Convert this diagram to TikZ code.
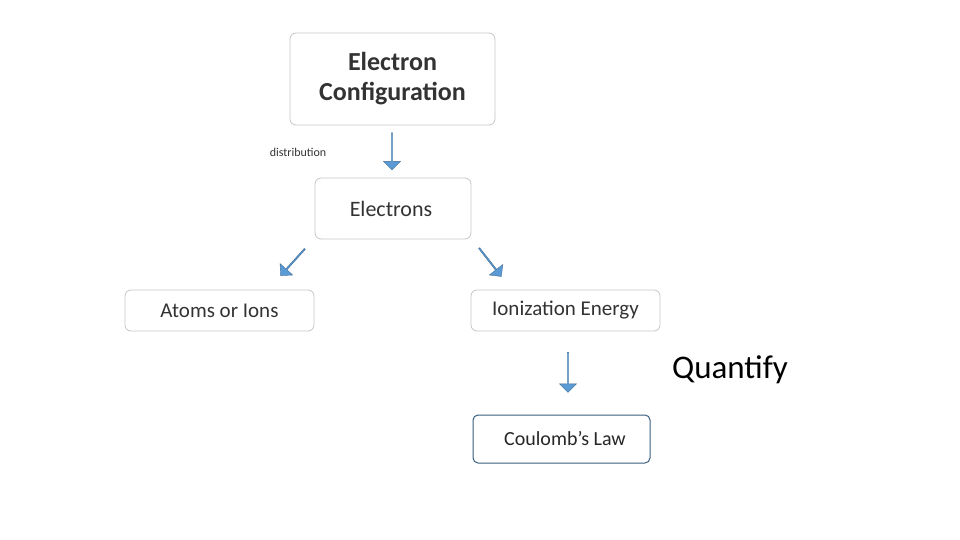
\documentclass[tikz,border=0pt]{standalone}
\usepackage{fontspec}
\setmainfont{Carlito}
\usetikzlibrary{shapes.arrows}
\begin{document}
\begin{tikzpicture}[x=1pt,y=-1pt,
  box/.style={draw=gray!45,rounded corners=6pt,line width=0.8pt,fill=white},
  barrow/.style={single arrow,fill=blue!45!cyan!70!black!70,draw=blue!50!black!60,line width=0.4pt,
    minimum height=#1,single arrow head extend=3pt,minimum width=17pt,inner sep=0pt,shape border uses incircle}]
\useasboundingbox (0,0) rectangle (960,540);
\definecolor{ab}{HTML}{5B9BD5}
\draw[box] (290,33) rectangle (495,125);
\node (ec) at (392.5,79) [align=center,font=\fontsize{26}{30}\selectfont\bfseries,text=black!80] {Electron\\Configuration};
\node (dist) at (298,152) [font=\fontsize{12}{14}\selectfont,text=black!80] {distribution};
\node (a1) at (392,151) [barrow=37pt,rotate=-90,fill=ab,draw=ab!70!black] {};
\draw[box] (315,178) rectangle (471,239);
\node (el) at (391,208.5) [font=\fontsize{22}{26}\selectfont,text=black!80] {Electrons};
\node (a2) at (293,262) [barrow=36pt,rotate=-132,fill=ab,draw=ab!70!black] {};
\node (a3) at (490,262) [barrow=36pt,rotate=-52,fill=ab,draw=ab!70!black] {};
\draw[box] (125,290) rectangle (314,331);
\node (ai) at (219.5,310.5) [font=\fontsize{21}{25}\selectfont,text=black!80] {Atoms or Ions};
\draw[box] (471,290) rectangle (660,331);
\node (ie) at (565.5,310.5) [font=\fontsize{21}{25}\selectfont,text=black!80] {Ionization Energy};
\node (a4) at (568,372) [barrow=40pt,rotate=-90,fill=ab,draw=ab!70!black] {};
\node (q) at (730,370) [font=\fontsize{33}{38}\selectfont] {Quantify};
\draw[rounded corners=5pt,draw=ab!60!black,line width=1pt] (473,415) rectangle (650,463);
\node (cl) at (565,439) [font=\fontsize{20}{24}\selectfont,text=black!85] {Coulomb’s Law};
\end{tikzpicture}
\end{document}
